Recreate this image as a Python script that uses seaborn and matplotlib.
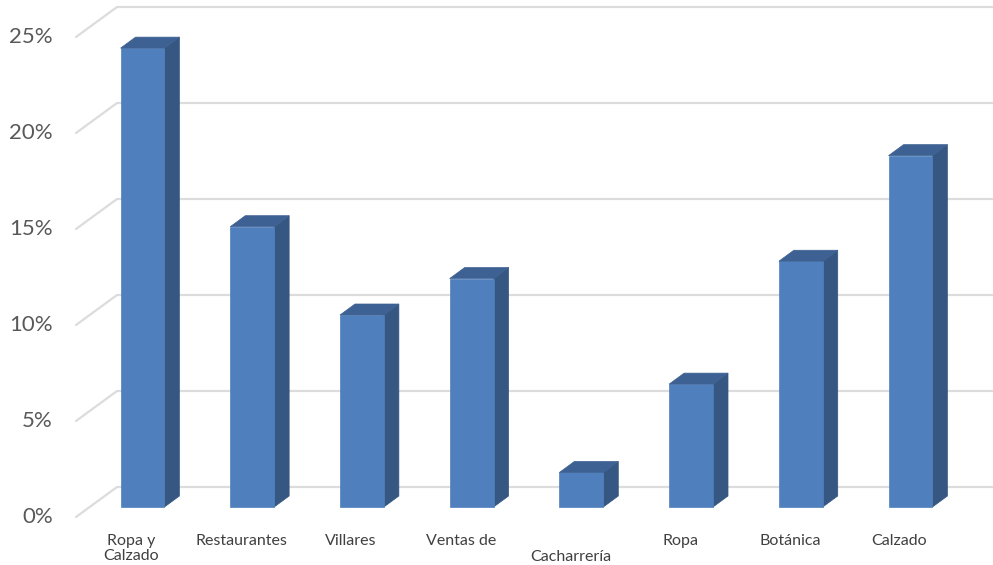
import matplotlib
matplotlib.use("Agg")
import matplotlib.pyplot as plt
import seaborn as sns
import pandas as pd
from matplotlib.patches import Polygon

# ---- data ----
categories = ["Ropa y\nCalzado", "Restaurantes", "Villares", "Ventas de",
              "Cacharrería", "Ropa", "Botánica", "Calzado"]
values = [23.9, 14.6, 10.0, 11.9, 1.8, 6.4, 12.8, 18.3]
tick_values = [0, 5, 10, 15, 20, 25]
tick_labels = ["0%", "5%", "10%", "15%", "20%", "25%"]

FRONT = "#4F80BD"
SIDE = "#355781"
TOP = "#3D6193"
GRID = "#DCDCDC"

sns.set_style("white")
plt.rcParams["font.family"] = ["Lato", "DejaVu Sans"]

W, H = 993, 565
fig = plt.figure(figsize=(W / 100, H / 100), dpi=100)
ax = fig.add_axes([0, 0, 1, 1])

df = pd.DataFrame({"cat": categories, "val": values})
sns.barplot(data=df, x="cat", y="val", color=FRONT, width=0.4, ax=ax,
            zorder=3, saturation=1, errorbar=None, edgecolor=FRONT, linewidth=0.5)

# pixel geometry of the pseudo-3D view
px_x = 109.714          # pixels per category step
px_y = 19.2             # pixels per percent
x0_px, y0_px = 142.5, 507.0   # position of first bar centre / baseline
ax.set_xlim(-x0_px / px_x, (W - x0_px) / px_x)
ax.set_ylim(-(H - y0_px) / px_y, y0_px / px_y)
ax.axis("off")

def xd(px):
    return (px - x0_px) / px_x

# bar depth offsets
bdx, bdy = 15 / px_x, 11 / px_y
# back wall offsets (relative to bar front plane)
wdy = 20 / px_y
# front floor offset
fdy = 10 / px_y

# gridlines on back wall + diagonal on the left wall
for v in tick_values:
    ax.plot([xd(117), xd(W)], [v + wdy, v + wdy], color=GRID, lw=1.6, zorder=1,
            solid_capstyle="butt")
    ax.plot([xd(76), xd(117)], [v - fdy, v + wdy], color=GRID, lw=1.6, zorder=1)

for v, lab in zip(tick_values, tick_labels):
    ax.text(xd(53), v - fdy, lab, ha="right", va="center", fontsize=16,
            color="#595959")

# 3D faces
for p in ax.patches[:len(values)]:
    x = p.get_x()
    w = p.get_width()
    h = p.get_height()
    side = Polygon([(x + w, 0), (x + w + bdx, bdy), (x + w + bdx, h + bdy), (x + w, h)],
                   closed=True, facecolor=SIDE, edgecolor=SIDE, lw=0.5, zorder=2.9)
    top = Polygon([(x, h), (x + bdx, h + bdy), (x + w + bdx, h + bdy), (x + w, h)],
                  closed=True, facecolor=TOP, edgecolor=TOP, lw=0.5, zorder=3.1)
    ax.add_patch(side)
    ax.add_patch(top)

# category labels on the front floor
lab_dx = -11 / px_x
for i, c in enumerate(categories):
    ytop_px = 550 if c == "Cacharrería" else 534
    ax.text(i + lab_dx, (y0_px - ytop_px) / px_y, c, ha="center", va="top",
            fontsize=11.5, color="#404040", linespacing=1.05)

fig.savefig("out.png", dpi=100)
